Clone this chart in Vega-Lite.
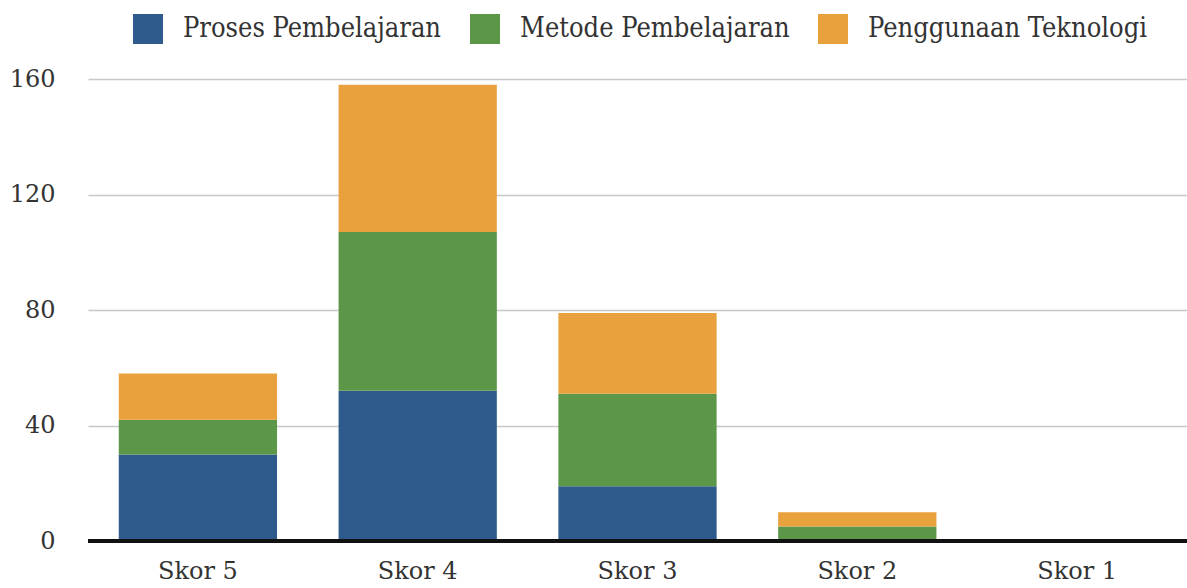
{
  "$schema": "https://vega.github.io/schema/vega-lite/v6.json",
  "width": 1099,
  "height": 462,
  "autosize": "none",
  "padding": {"left": 88, "top": 79, "right": 0, "bottom": 47},
  "background": "white",
  "data": {
    "values": [
      {"skor": "Skor 5", "kategori": "Proses Pembelajaran", "k": 1, "nilai": 30},
      {"skor": "Skor 5", "kategori": "Metode Pembelajaran", "k": 2, "nilai": 12},
      {"skor": "Skor 5", "kategori": "Penggunaan Teknologi", "k": 3, "nilai": 16},
      {"skor": "Skor 4", "kategori": "Proses Pembelajaran", "k": 1, "nilai": 52},
      {"skor": "Skor 4", "kategori": "Metode Pembelajaran", "k": 2, "nilai": 55},
      {"skor": "Skor 4", "kategori": "Penggunaan Teknologi", "k": 3, "nilai": 51},
      {"skor": "Skor 3", "kategori": "Proses Pembelajaran", "k": 1, "nilai": 19},
      {"skor": "Skor 3", "kategori": "Metode Pembelajaran", "k": 2, "nilai": 32},
      {"skor": "Skor 3", "kategori": "Penggunaan Teknologi", "k": 3, "nilai": 28},
      {"skor": "Skor 2", "kategori": "Proses Pembelajaran", "k": 1, "nilai": 0},
      {"skor": "Skor 2", "kategori": "Metode Pembelajaran", "k": 2, "nilai": 5},
      {"skor": "Skor 2", "kategori": "Penggunaan Teknologi", "k": 3, "nilai": 5},
      {"skor": "Skor 1", "kategori": "Proses Pembelajaran", "k": 1, "nilai": 0},
      {"skor": "Skor 1", "kategori": "Metode Pembelajaran", "k": 2, "nilai": 0},
      {"skor": "Skor 1", "kategori": "Penggunaan Teknologi", "k": 3, "nilai": 0}
    ]
  },
  "config": {
    "view": {"stroke": null},
    "font": "DejaVu Serif"
  },
  "layer": [
    {
      "mark": {"type": "bar"},
      "encoding": {
        "x": {
          "field": "skor",
          "type": "nominal",
          "sort": ["Skor 5", "Skor 4", "Skor 3", "Skor 2", "Skor 1"],
          "scale": {"paddingInner": 0.28, "paddingOuter": 0.14},
          "axis": {
            "title": null,
            "labelAngle": 0,
            "labelFont": "DejaVu Serif",
            "labelFontSize": 24,
            "labelColor": "#333333",
            "labelPadding": 18,
            "ticks": false,
            "domain": false
          }
        },
        "y": {
          "field": "nilai",
          "type": "quantitative",
          "aggregate": "sum",
          "stack": "zero",
          "scale": {"domain": [0, 160], "nice": false},
          "axis": {
            "title": null,
            "values": [0, 40, 80, 120, 160],
            "labelFont": "DejaVu Serif",
            "labelFontSize": 24,
            "labelColor": "#333333",
            "labelPadding": 33,
            "ticks": false,
            "domain": false,
            "gridColor": "#c8c8c8",
            "gridWidth": 1.5
          }
        },
        "color": {
          "field": "kategori",
          "type": "nominal",
          "scale": {
            "domain": ["Proses Pembelajaran", "Metode Pembelajaran", "Penggunaan Teknologi"],
            "range": ["#2e5a8c", "#5c9648", "#e8a13c"]
          },
          "legend": {
            "title": null,
            "orient": "none",
            "direction": "horizontal",
            "legendX": 45,
            "legendY": -65,
            "symbolType": "square",
            "symbolSize": 900,
            "symbolStrokeWidth": 0,
            "labelFont": "DejaVu Serif Condensed",
            "labelFontSize": 27,
            "labelColor": "#333333",
            "labelOffset": 20,
            "columnPadding": 28,
            "labelLimit": 400
          }
        },
        "order": {"field": "k", "type": "quantitative"}
      }
    },
    {
      "mark": {"type": "rule", "color": "#111111", "strokeWidth": 3},
      "encoding": {"y": {"datum": 0, "type": "quantitative"}}
    }
  ]
}
